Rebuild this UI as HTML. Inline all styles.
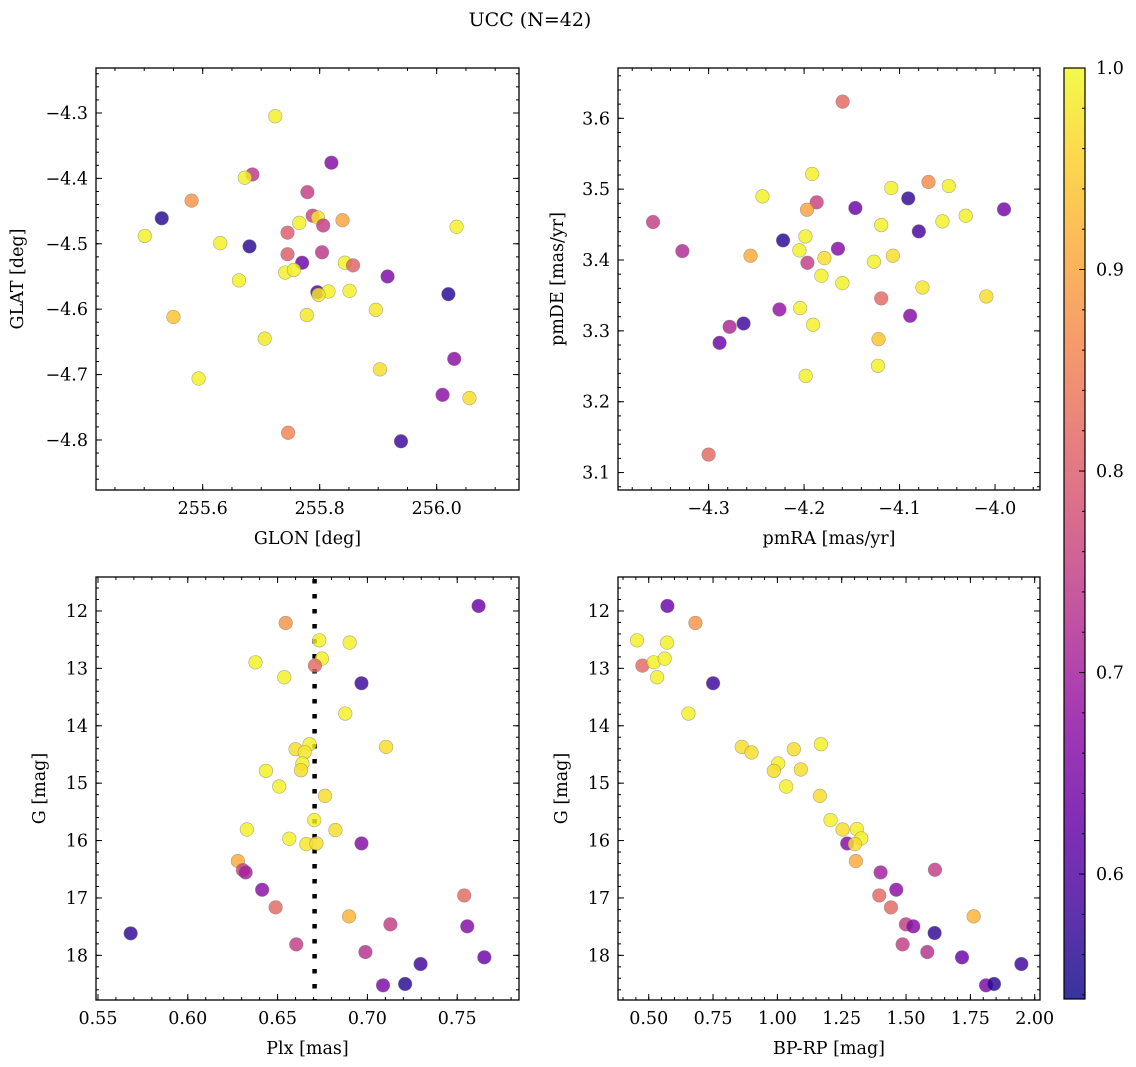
<!DOCTYPE html>
<html><head><meta charset="utf-8"><title>UCC (N=42)</title>
<style>
html,body{margin:0;padding:0;background:#fff;}
svg{display:block;font-family:"DejaVu Serif","Liberation Serif",serif;}
</style></head>
<body>
<svg id="fig" width="1136" height="1067" viewBox="0 0 1136 1067" xmlns="http://www.w3.org/2000/svg">
<text x="530" y="26" font-size="19" text-anchor="middle">UCC (N=42)</text>
</svg>
<script>
// ---- Panel 1: GLON / GLAT ----
const p1Lon = [255.724,255.820,255.685,255.672,255.779,255.581,255.530,255.501,255.630,255.680,255.765,255.788,255.797,255.806,255.839,255.745,255.745,255.804,255.770,255.741,255.756,255.843,255.857,255.662,255.796,255.815,255.798,255.851,255.916,256.020,256.034,255.896,255.778,255.550,255.706,255.903,255.593,256.030,256.010,256.056,255.746,255.939];
const p1Lat = [-4.305,-4.376,-4.394,-4.399,-4.421,-4.434,-4.461,-4.488,-4.499,-4.504,-4.468,-4.457,-4.460,-4.472,-4.464,-4.483,-4.516,-4.513,-4.529,-4.544,-4.540,-4.529,-4.533,-4.556,-4.574,-4.573,-4.578,-4.572,-4.550,-4.577,-4.474,-4.601,-4.609,-4.612,-4.645,-4.692,-4.706,-4.676,-4.731,-4.736,-4.789,-4.802];
const p1Prob = [0.99,0.66,0.74,0.99,0.75,0.88,0.56,0.99,0.99,0.56,0.99,0.76,0.98,0.75,0.9,0.8,0.8,0.74,0.63,0.99,0.99,0.99,0.81,0.99,0.6,0.99,0.98,0.99,0.65,0.56,0.99,0.98,0.98,0.94,0.98,0.97,0.99,0.67,0.67,0.97,0.86,0.58];

// ---- Panel 2: pmRA / pmDE ----
const p2Pmra = [-4.1596,-4.1916,-4.2436,-4.0697,-4.0484,-4.1087,-4.0909,-4.1868,-4.1969,-4.1463,-3.9906,-4.3582,-4.0307,-4.0551,-4.1192,-4.0798,-4.2220,-4.1986,-4.3275,-4.2049,-4.1645,-4.2561,-4.1787,-4.1965,-4.1070,-4.1268,-4.1819,-4.1599,-4.0760,-4.0091,-4.1192,-4.2258,-4.2042,-4.0889,-4.2634,-4.2780,-4.1906,-4.2885,-4.1220,-4.1226,-4.1983,-4.3000];
const p2Pmde = [3.6235,3.5214,3.4898,3.5101,3.5044,3.5016,3.4870,3.4814,3.4710,3.4734,3.4715,3.4536,3.4625,3.4545,3.4493,3.4404,3.4277,3.4333,3.4126,3.4136,3.4159,3.4060,3.4027,3.3961,3.4060,3.3976,3.3778,3.3674,3.3613,3.3486,3.3458,3.3302,3.3321,3.3213,3.3104,3.3057,3.3086,3.2831,3.2883,3.2507,3.2365,3.1254];
const p2Prob = [0.82,0.99,0.99,0.87,0.99,0.99,0.57,0.76,0.9,0.63,0.64,0.75,0.99,0.99,0.99,0.59,0.56,0.99,0.72,0.99,0.66,0.91,0.97,0.75,0.97,0.99,0.99,0.99,0.98,0.97,0.82,0.68,0.99,0.66,0.58,0.71,0.99,0.63,0.94,0.99,0.99,0.82];

// ---- Panel 3: Plx / G ----
const p3Plx = [0.7619,0.6545,0.6732,0.6901,0.6377,0.6747,0.6708,0.6537,0.6967,0.6877,0.7104,0.6600,0.6678,0.6651,0.6638,0.6630,0.6435,0.6509,0.6764,0.6704,0.6329,0.6822,0.6565,0.6660,0.6716,0.6967,0.6279,0.6307,0.6322,0.6414,0.7539,0.6489,0.6898,0.7128,0.7556,0.5682,0.6604,0.6989,0.7651,0.7296,0.7087,0.7210];
const p3G = [11.913,12.209,12.511,12.551,12.894,12.830,12.952,13.155,13.259,13.787,14.368,14.408,14.321,14.460,14.658,14.774,14.785,15.058,15.221,15.644,15.807,15.818,15.969,16.062,16.050,16.050,16.358,16.515,16.555,16.857,16.956,17.164,17.321,17.460,17.495,17.617,17.809,17.942,18.035,18.151,18.522,18.499];
const p3Prob = [0.63,0.88,0.99,0.99,0.99,0.99,0.82,0.99,0.58,0.99,0.97,0.97,0.99,0.98,0.99,0.97,0.99,0.99,0.97,0.99,0.99,0.97,0.99,0.98,0.97,0.66,0.91,0.76,0.7,0.67,0.82,0.82,0.92,0.75,0.66,0.57,0.75,0.73,0.63,0.58,0.65,0.56];
const plxMedian = 0.6706;

// ---- Panel 4: BP-RP / G ----
const p4Col = [0.5726,0.6815,0.4546,0.5713,0.4754,0.5195,0.5622,0.5324,0.7502,0.6543,0.8617,0.8993,1.0640,1.1690,1.0030,0.9862,1.0912,1.0342,1.1651,1.2066,1.2533,1.3090,1.3259,1.2714,1.3012,1.3051,1.4011,1.6124,1.4620,1.3959,1.4413,1.7628,1.4996,1.5281,1.6111,1.4867,1.5826,1.7174,1.9482,1.8108,1.8419];
const p4G = [11.913,12.209,12.511,12.551,12.952,12.894,12.830,13.155,13.259,13.787,14.368,14.466,14.408,14.321,14.658,14.785,14.762,15.058,15.221,15.644,15.807,15.801,15.963,16.050,16.062,16.358,16.555,16.509,16.857,16.956,17.164,17.321,17.460,17.495,17.611,17.809,17.942,18.035,18.151,18.522,18.499];
const p4Prob = [0.63,0.88,0.99,0.99,0.82,0.99,0.99,0.99,0.58,0.99,0.97,0.97,0.97,0.99,0.99,0.97,0.97,0.99,0.97,0.99,0.97,0.99,0.99,0.66,0.97,0.91,0.7,0.75,0.67,0.82,0.82,0.92,0.75,0.66,0.57,0.75,0.73,0.63,0.58,0.65,0.56];

// ---- Colorbar ----
const cbMin = 0.538, cbMax = 1.0;
const cbTicks = [0.6,0.7,0.8,0.9,1.0];

const NS = "http://www.w3.org/2000/svg";
const svg = document.getElementById('fig');
function mk(tag, attrs, parent){
  const e = document.createElementNS(NS, tag);
  for (const k in attrs) e.setAttribute(k, attrs[k]);
  (parent||svg).appendChild(e);
  return e;
}
const stops = [[0,13,8,135],[0.1,65,4,157],[0.2,106,0,168],[0.3,143,13,164],[0.4,177,42,144],[0.5,204,71,120],[0.6,225,100,98],[0.7,242,132,75],[0.8,252,166,54],[0.9,252,206,37],[1,240,249,33]];
function plasma(t){
  t = Math.max(0, Math.min(1, t));
  for (let i=1;i<stops.length;i++){
    if (t <= stops[i][0]){
      const a = stops[i-1], b = stops[i], f = (t-a[0])/(b[0]-a[0]);
      return 'rgb('+Math.round(a[1]+(b[1]-a[1])*f)+','+Math.round(a[2]+(b[2]-a[2])*f)+','+Math.round(a[3]+(b[3]-a[3])*f)+')';
    }
  }
  return 'rgb(240,249,33)';
}
function fmt(v, dec){ const s = v.toFixed(dec); return s.charAt(0)==='-' ? '\u2212'+s.slice(1) : s; }
const TICK_FS = 17.5, LABEL_FS = 17.5;

function drawPanel(cfg, xs, ys, cs){
  const g = mk('g', {});
  
  
  const L=cfg.x0, R=cfg.x1, T=cfg.y0, B=cfg.y1;
  const sx = v => L + (v-cfg.xmin)/(cfg.xmax-cfg.xmin)*(R-L);
  const sy = cfg.yinv ? (v => T + (v-cfg.ymin)/(cfg.ymax-cfg.ymin)*(B-T)) : (v => B - (v-cfg.ymin)/(cfg.ymax-cfg.ymin)*(B-T));
  const tg = mk('g', {stroke:'#000','stroke-width':1}, g);
  
  
  function ticksX(step, len, labels){
    const s = Math.ceil(cfg.xmin/step-1e-6), e = Math.floor(cfg.xmax/step+1e-6);
    for (let i=s;i<=e;i++){
      const v=i*step, x=sx(v);
      mk('line',{x1:x,y1:B,x2:x,y2:B-len},tg);
      mk('line',{x1:x,y1:T,x2:x,y2:T+len},tg);
      if (labels){
        const t = mk('text',{x:x,y:B+24,'font-size':TICK_FS,'text-anchor':'middle',stroke:'none'},g);
        t.textContent = fmt(v, cfg.xdec);
        
        
      }
    }
  }
  function ticksY(step, len, labels){
    const lo=Math.min(cfg.ymin,cfg.ymax), hi=Math.max(cfg.ymin,cfg.ymax);
    const s = Math.ceil(lo/step-1e-6), e = Math.floor(hi/step+1e-6);
    for (let i=s;i<=e;i++){
      const v=i*step, y=sy(v);
      mk('line',{x1:L,y1:y,x2:L+len,y2:y},tg);
      mk('line',{x1:R,y1:y,x2:R-len,y2:y},tg);
      if (labels){
        const t = mk('text',{x:L-8,y:y+6,'font-size':TICK_FS,'text-anchor':'end',stroke:'none'},g);
        t.textContent = fmt(v, cfg.ydec);
        
        
      }
    }
  }
  ticksX(cfg.xminor, 3, false); ticksX(cfg.xmajor, 6, true);
  ticksY(cfg.yminor, 3, false); ticksY(cfg.ymajor, 6, true);
  if (cfg.vline !== undefined){
    const vl = mk('line',{x1:sx(cfg.vline),y1:T,x2:sx(cfg.vline),y2:B,stroke:'#000','stroke-width':4.5,'stroke-dasharray':'4.5,10.5','stroke-dashoffset':-2},g);
    
    
  }
  const pg = mk('g', {}, g);
  
  
  for (let i=0;i<xs.length;i++){
    const c = mk('circle',{cx:sx(xs[i]),cy:sy(ys[i]),r:6.8,fill:plasma((cs[i]-cbMin)/(cbMax-cbMin)),'fill-opacity':0.82,stroke:'#777','stroke-opacity':0.6,'stroke-width':0.6},pg);
    
    
  }
  const fr = mk('rect',{x:L,y:T,width:R-L,height:B-T,fill:'none',stroke:'#000','stroke-width':1.3},g);
  
  
  const xl = mk('text',{x:(L+R)/2,y:B+54,'font-size':LABEL_FS,'text-anchor':'middle'},g);
  xl.textContent = cfg.xlabel;
  
  
  const yx = cfg.ylx, yy = (T+B)/2;
  const yl = mk('text',{x:yx,y:yy,'font-size':LABEL_FS,'text-anchor':'middle',transform:'rotate(-90 '+yx+' '+yy+')'},g);
  yl.textContent = cfg.ylabel;
  
  
}

drawPanel({name:'glon-glat-panel',x0:96,x1:519,y0:68,y1:490,xmin:255.4176,xmax:256.1407,ymin:-4.8765,ymax:-4.2312,yinv:false,xmajor:0.2,xminor:0.05,ymajor:0.1,yminor:0.02,xdec:1,ydec:1,xlabel:'GLON [deg]',ylabel:'GLAT [deg]',ylx:23}, p1Lon, p1Lat, p1Prob);
drawPanel({name:'pm-panel',x0:618,x1:1040,y0:68,y1:490,xmin:-4.3949,xmax:-3.9529,ymin:3.0754,ymax:3.6710,yinv:false,xmajor:0.1,xminor:0.02,ymajor:0.1,yminor:0.02,xdec:1,ydec:1,xlabel:'pmRA [mas/yr]',ylabel:'pmDE [mas/yr]',ylx:563}, p2Pmra, p2Pmde, p2Prob);
drawPanel({name:'plx-g-panel',x0:96,x1:519,y0:577,y1:1000,xmin:0.5489,xmax:0.7844,ymin:11.408,ymax:18.778,yinv:true,xmajor:0.05,xminor:0.01,ymajor:1,yminor:0.2,xdec:2,ydec:0,xlabel:'Plx [mas]',ylabel:'G [mag]',ylx:45,vline:plxMedian}, p3Plx, p3G, p3Prob);
drawPanel({name:'cmd-panel',x0:618,x1:1040,y0:577,y1:1000,xmin:0.3806,xmax:2.0206,ymin:11.408,ymax:18.778,yinv:true,xmajor:0.25,xminor:0.05,ymajor:1,yminor:0.2,xdec:2,ydec:0,xlabel:'BP-RP [mag]',ylabel:'G [mag]',ylx:567}, p4Col, p4G, p4Prob);

(function(){
  const L=1064,R=1085,T=68,B=999;
  const cg = mk('g',{});
  
  
  const defs = mk('defs',{},cg);
  const lg = mk('linearGradient',{id:'cbgrad',x1:0,y1:1,x2:0,y2:0},defs);
  for (let i=0;i<=20;i++){ mk('stop',{offset:(i/20),'stop-color':plasma(i/20),'stop-opacity':0.82},lg); }
  const r = mk('rect',{x:L,y:T,width:R-L,height:B-T,fill:'url(#cbgrad)',stroke:'#000','stroke-width':1.2},cg);
  
  
  const sy = v => B - (v-cbMin)/(cbMax-cbMin)*(B-T);
  for (let i=Math.ceil(cbMin/0.02);i<=Math.floor(cbMax/0.02+1e-6);i++){
    const y = sy(i*0.02);
    mk('line',{x1:R,y1:y,x2:R-3,y2:y,stroke:'#000','stroke-width':1},cg);
  }
  for (const v of cbTicks){
    const y = sy(v);
    mk('line',{x1:R,y1:y,x2:R-6,y2:y,stroke:'#000','stroke-width':1},cg);
    const t = mk('text',{x:R+11,y:y+6,'font-size':TICK_FS},cg);
    t.textContent = v.toFixed(1);
    
    
  }
})();
</script>
</body></html>
